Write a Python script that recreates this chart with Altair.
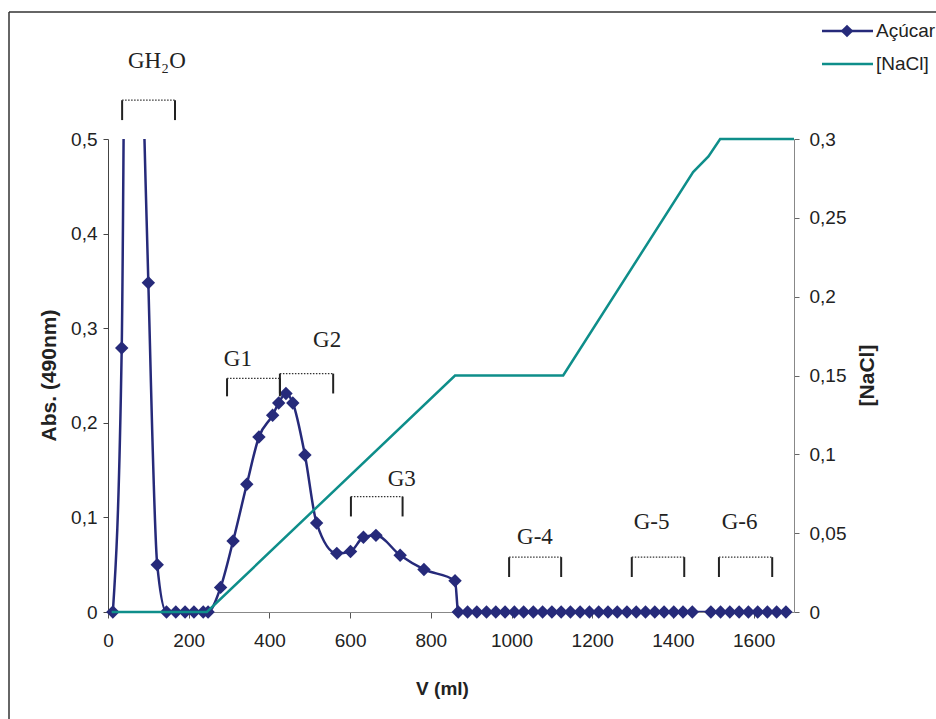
import altair as alt
import pandas as pd

# ---------------- data ----------------
sugar_v = [12, 34, 56, 78, 100, 122, 145, 168, 191, 213, 236, 248, 279, 310, 344,
           374, 408, 423, 441, 458, 488, 517, 567, 601, 633, 664, 724, 783, 860,
           868, 891, 914, 938, 961, 984, 1007, 1030, 1054, 1077, 1100, 1123, 1146,
           1170, 1193, 1216, 1239, 1262, 1286, 1309, 1332, 1355, 1378, 1402, 1425,
           1448, 1494, 1518, 1541, 1564, 1587, 1610, 1634, 1657, 1680]
sugar_abs = [0, 0.279, 1.5, 0.75, 0.348, 0.050, 0, 0, 0, 0, 0, 0, 0.026, 0.075, 0.135,
             0.185, 0.208, 0.221, 0.231, 0.221, 0.166, 0.094, 0.062, 0.064, 0.079, 0.081, 0.060, 0.045, 0.033,
             0, 0, 0, 0, 0, 0, 0, 0, 0, 0, 0, 0, 0,
             0, 0, 0, 0, 0, 0, 0, 0, 0, 0, 0, 0,
             0, 0, 0, 0, 0, 0, 0, 0, 0, 0]

nacl_v = [9, 245, 860, 1128, 1450, 1488, 1517, 1700]
nacl_c = [0, 0, 0.15, 0.15, 0.279, 0.289, 0.3, 0.3]

grp_names = ["GH\u2082O", "G1", "G2", "G3", "G-4", "G-5", "G-6"]
grp_left = [35, 295, 426, 602, 994, 1298, 1514]
grp_right = [166, 426, 558, 730, 1123, 1428, 1646]
grp_top = [0.541, 0.247, 0.252, 0.122, 0.058, 0.058, 0.058]
grp_bot = [0.520, 0.228, 0.231, 0.101, 0.037, 0.037, 0.037]
grp_lx = [121, 322, 543, 728, 1058, 1347, 1565]
grp_ly = [0.582, 0.267, 0.288, 0.141, 0.079, 0.0955, 0.0955]

x_ticks = [0, 200, 400, 600, 800, 1000, 1200, 1400, 1600]
yl_ticks = [0, 0.1, 0.2, 0.3, 0.4, 0.5]
yr_ticks = [0, 0.05, 0.1, 0.15, 0.2, 0.25, 0.3]

series_names = ["Açúcar", "[NaCl]"]

# ---------------- tables ----------------
sugar = pd.DataFrame({"V": sugar_v, "A": sugar_abs})
nacl = pd.DataFrame({"V": nacl_v, "C": nacl_c})
groups = pd.DataFrame({"name": grp_names, "xl": grp_left, "xr": grp_right,
                       "top": grp_top, "bot": grp_bot, "lx": grp_lx, "ly": grp_ly})
one = pd.DataFrame({"k": [0]})

NAVY = "#262A7A"
TEAL = "#0E8E8A"
SANS = "Liberation Sans, Arial"
SERIF = "Liberation Serif, Times New Roman"
TXT = "#222222"

W, H = 686, 473

xscale = alt.Scale(domain=[0, 1700], nice=False, zero=False)
ylscale = alt.Scale(domain=[0, 0.5], nice=False)
yrscale = alt.Scale(domain=[0, 0.3], nice=False)

x_axis = alt.Axis(values=x_ticks, format="d", title="V (ml)", grid=False, domainColor="#888888",
                  tickColor="#555555", tickSize=6, labelPadding=13, labelFlush=False,
                  labelFont=SANS, labelFontSize=19, labelColor=TXT,
                  titleFont=SANS, titleFontSize=19, titleFontWeight="bold", titleColor=TXT,
                  titleX=334, titleY=76, titleBaseline="middle", titleAlign="center")
yl_axis = alt.Axis(orient="left", values=yl_ticks, format=".1~f",
                   labelExpr="replace(datum.label, '.', ',')", title="Abs. (490nm)",
                   grid=False, domainColor="#444444", tickColor="#444444", tickSize=5,
                   labelPadding=6, labelFlush=False, labelFont=SANS, labelFontSize=19,
                   labelColor=TXT, titleFont=SANS, titleFontSize=21, titleFontWeight="bold",
                   titleColor=TXT, titleX=-59, titleY=236, titleAngle=270,
                   titleBaseline="middle", titleAlign="center")
yr_axis = alt.Axis(orient="right", values=yr_ticks, format=".2~f",
                   labelExpr="replace(datum.label, '.', ',')", title="[NaCl]",
                   grid=False, domainColor="#888888", tickColor="#666666", tickSize=5,
                   labelPadding=10, labelFlush=False, labelFont=SANS, labelFontSize=19,
                   labelColor=TXT, titleFont=SANS, titleFontSize=21, titleFontWeight="bold",
                   titleColor=TXT, titleX=73, titleY=236, titleAngle=270,
                   titleBaseline="middle", titleAlign="center")

X = lambda f: alt.X(f + ":Q", scale=xscale, axis=x_axis)
YL = lambda f: alt.Y(f + ":Q", scale=ylscale, axis=yl_axis)

sugar_line = alt.Chart(sugar).mark_line(color=NAVY, strokeWidth=2.5, clip=True,
                                        interpolate="monotone").encode(x=X("V"), y=YL("A"))
sugar_pts = alt.Chart(sugar).transform_filter("datum.A <= 0.5").mark_point(
    shape="diamond", filled=True, size=180, color=NAVY, opacity=1).encode(x=X("V"), y=YL("A"))

g = alt.Chart(groups)
tick_l = g.mark_rule(color=TXT, strokeWidth=2).encode(x=X("xl"), y=YL("top"), y2="bot:Q")
tick_r = g.mark_rule(color=TXT, strokeWidth=2).encode(x=X("xr"), y=YL("top"), y2="bot:Q")
dots = g.mark_rule(color="#333333", strokeWidth=1.3, strokeDash=[1.5, 1.5]).encode(
    x=X("xl"), x2="xr:Q", y=YL("top"))
labels = g.mark_text(font=SERIF, fontSize=23, color=TXT, baseline="middle",
                     align="center").encode(x=X("lx"), y=YL("ly"), text="name:N")

# frame
o = alt.Chart(one)
frame_top = o.mark_rule(color="#333333", strokeWidth=1.5).encode(
    x=alt.value(-99), x2=alt.value(830), y=alt.value(-127))
frame_left = o.mark_rule(color="#333333", strokeWidth=1.5).encode(
    x=alt.value(-99), y=alt.value(-127), y2=alt.value(600))

# legend
leg_l1 = o.mark_rule(color=NAVY, strokeWidth=2.5).encode(
    x=alt.value(714), x2=alt.value(765), y=alt.value(-108))
leg_p1 = o.mark_point(shape="diamond", filled=True, size=160, color=NAVY, opacity=1).encode(
    x=alt.value(739), y=alt.value(-108))
leg_t1 = o.mark_text(text=series_names[0], font=SANS, fontSize=19, color=TXT,
                     align="left", baseline="middle").encode(x=alt.value(768), y=alt.value(-108))
leg_l2 = o.mark_rule(color=TEAL, strokeWidth=2.5).encode(
    x=alt.value(714), x2=alt.value(765), y=alt.value(-75))
leg_t2 = o.mark_text(text=series_names[1], font=SANS, fontSize=19, color=TXT,
                     align="left", baseline="middle").encode(x=alt.value(768), y=alt.value(-75))

left = alt.layer(sugar_line, sugar_pts, tick_l, tick_r, dots, labels,
                 frame_top, frame_left, leg_l1, leg_p1, leg_t1, leg_l2, leg_t2)

nacl_line = alt.Chart(nacl).mark_line(color=TEAL, strokeWidth=2.5).encode(
    x=X("V"), y=alt.Y("C:Q", scale=yrscale, axis=yr_axis))

chart = alt.layer(left, nacl_line).resolve_scale(y="independent").properties(
    width=W, height=H,
    padding={"left": 108, "top": 139, "right": 142, "bottom": 107},
    autosize=alt.AutoSizeParams(type="none"),
    background="white",
).configure_view(stroke=None)

chart.save("out.html", embed_options={"renderer": "svg", "actions": False})
